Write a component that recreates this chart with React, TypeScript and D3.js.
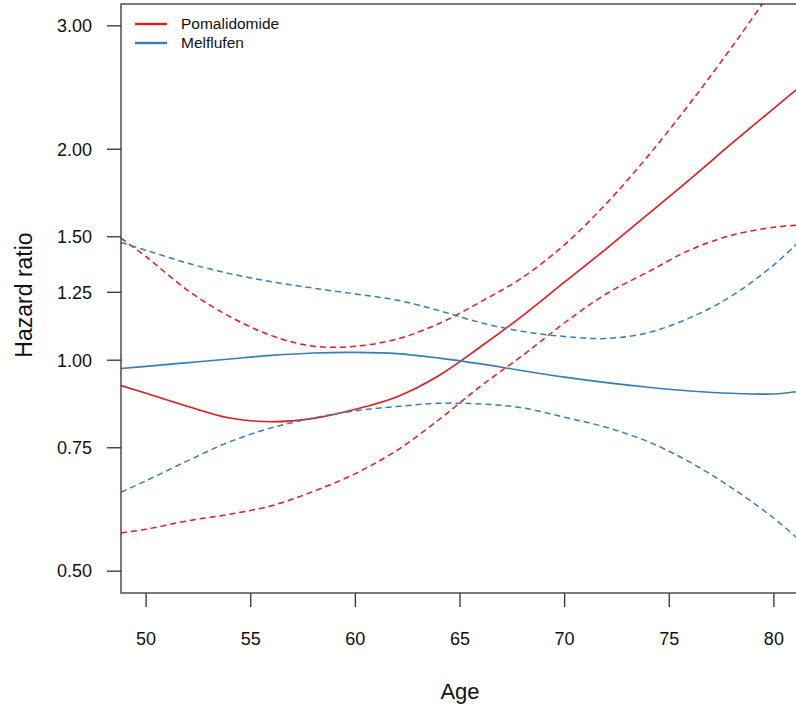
import React from 'react';
import * as d3 from 'd3';

const ages = [48.8, 50, 52, 54, 56, 58, 60, 62, 64, 66, 68, 70, 72, 74, 76, 78, 80, 81.1];

const pomaHR = [0.920, 0.897, 0.859, 0.827, 0.817, 0.826, 0.851, 0.887, 0.951, 1.046, 1.158, 1.293, 1.443, 1.617, 1.813, 2.040, 2.288, 2.435];
const pomaLower = [0.567, 0.574, 0.590, 0.603, 0.620, 0.650, 0.689, 0.744, 0.823, 0.919, 1.016, 1.131, 1.244, 1.337, 1.437, 1.508, 1.548, 1.558];
const pomaUpper = [1.493, 1.405, 1.257, 1.154, 1.084, 1.047, 1.047, 1.072, 1.128, 1.212, 1.313, 1.462, 1.674, 1.958, 2.328, 2.801, 3.404, 3.800];

const melfHR = [0.973, 0.980, 0.992, 1.004, 1.016, 1.024, 1.026, 1.022, 1.007, 0.988, 0.966, 0.946, 0.929, 0.915, 0.904, 0.897, 0.895, 0.902];
const melfLower = [0.648, 0.673, 0.719, 0.765, 0.801, 0.827, 0.847, 0.859, 0.868, 0.866, 0.855, 0.829, 0.802, 0.765, 0.715, 0.657, 0.595, 0.558];
const melfUpper = [1.472, 1.435, 1.375, 1.329, 1.294, 1.267, 1.243, 1.218, 1.177, 1.131, 1.099, 1.081, 1.074, 1.095, 1.150, 1.236, 1.368, 1.466];

const xTicks = [50, 55, 60, 65, 70, 75, 80];
const yTicks = [0.5, 0.75, 1.0, 1.25, 1.5, 2.0, 3.0];

const RED = '#e41a1c';
const BLUE = '#377eb8';
const FONT = '"Liberation Sans", Arial, sans-serif';

const series = [
  { name: 'Pomalidomide', color: RED, hr: pomaHR, lo: pomaLower, hi: pomaUpper },
  { name: 'Melflufen', color: BLUE, hr: melfHR, lo: melfLower, hi: melfUpper },
];

export default function App() {
  const width = 796;
  const height = 706;
  const left = 121, right = 799, top = 4, bottom = 593;

  // R style: xlim 50..80, ylim 0.5..3 (log), each padded 4%
  const x = d3.scaleLinear().domain([48.8, 81.2]).range([left, right]);
  const ly0 = Math.log(0.5), ly1 = Math.log(3);
  const pad = (ly1 - ly0) * 0.04;
  const y = d3.scaleLog().domain([Math.exp(ly0 - pad), Math.exp(ly1 + pad)]).range([bottom, top]);

  const line = (vals: number[]) =>
    d3.line<number>()
      .x((_, i) => x(ages[i]))
      .y(v => y(v))
      .curve(d3.curveCatmullRom.alpha(0.5))(vals) || '';

  return (
    <div style={{ position: 'absolute', left: 0, top: 0 }}>
      <svg width={width} height={height} style={{ display: 'block', background: '#fff' }}>
        <defs>
          <clipPath id="plot">
            <rect x={left} y={top} width={right - left} height={bottom - top} />
          </clipPath>
        </defs>

        <g clipPath="url(#plot)">
          {series.map(s => (
            <g key={s.name}>
              <path d={line(s.hi)} fill="none" stroke={s.color} strokeWidth={1.5} strokeDasharray="6 4" />
              <path d={line(s.lo)} fill="none" stroke={s.color} strokeWidth={1.5} strokeDasharray="6 4" />
              <path d={line(s.hr)} fill="none" stroke={s.color} strokeWidth={1.6} />
            </g>
          ))}
        </g>

        {/* box */}
        <rect x={left} y={top} width={right - left} height={bottom - top} fill="none" stroke="#333" strokeWidth={1.3} />

        {/* y axis */}
        {yTicks.map(t => (
          <g key={t} transform={`translate(0,${y(t)})`}>
            <line x1={left - 14} x2={left} stroke="#333" strokeWidth={1.3} />
            <text x={92} dy="0.35em" textAnchor="end" fontFamily={FONT} fontSize={18} fill="#111">
              {t.toFixed(2)}
            </text>
          </g>
        ))}

        {/* x axis */}
        {xTicks.map(t => (
          <g key={t} transform={`translate(${x(t)},0)`}>
            <line y1={bottom} y2={bottom + 14} stroke="#333" strokeWidth={1.3} />
            <text y={645} textAnchor="middle" fontFamily={FONT} fontSize={18} fill="#111">{t}</text>
          </g>
        ))}

        <text x={460} y={699} textAnchor="middle" fontFamily={FONT} fontSize={22} fill="#111">Age</text>
        <text transform="translate(32,295) rotate(-90)" textAnchor="middle" fontFamily={FONT} fontSize={23} fill="#111">
          Hazard ratio
        </text>

        {/* legend */}
        {series.map((s, i) => (
          <g key={s.name} transform={`translate(0,${24 + i * 19})`}>
            <line x1={135} x2={167} stroke={s.color} strokeWidth={2.4} />
            <text x={181} dy="0.35em" fontFamily={FONT} fontSize={15.5} fill="#111">{s.name}</text>
          </g>
        ))}
      </svg>
    </div>
  );
}
